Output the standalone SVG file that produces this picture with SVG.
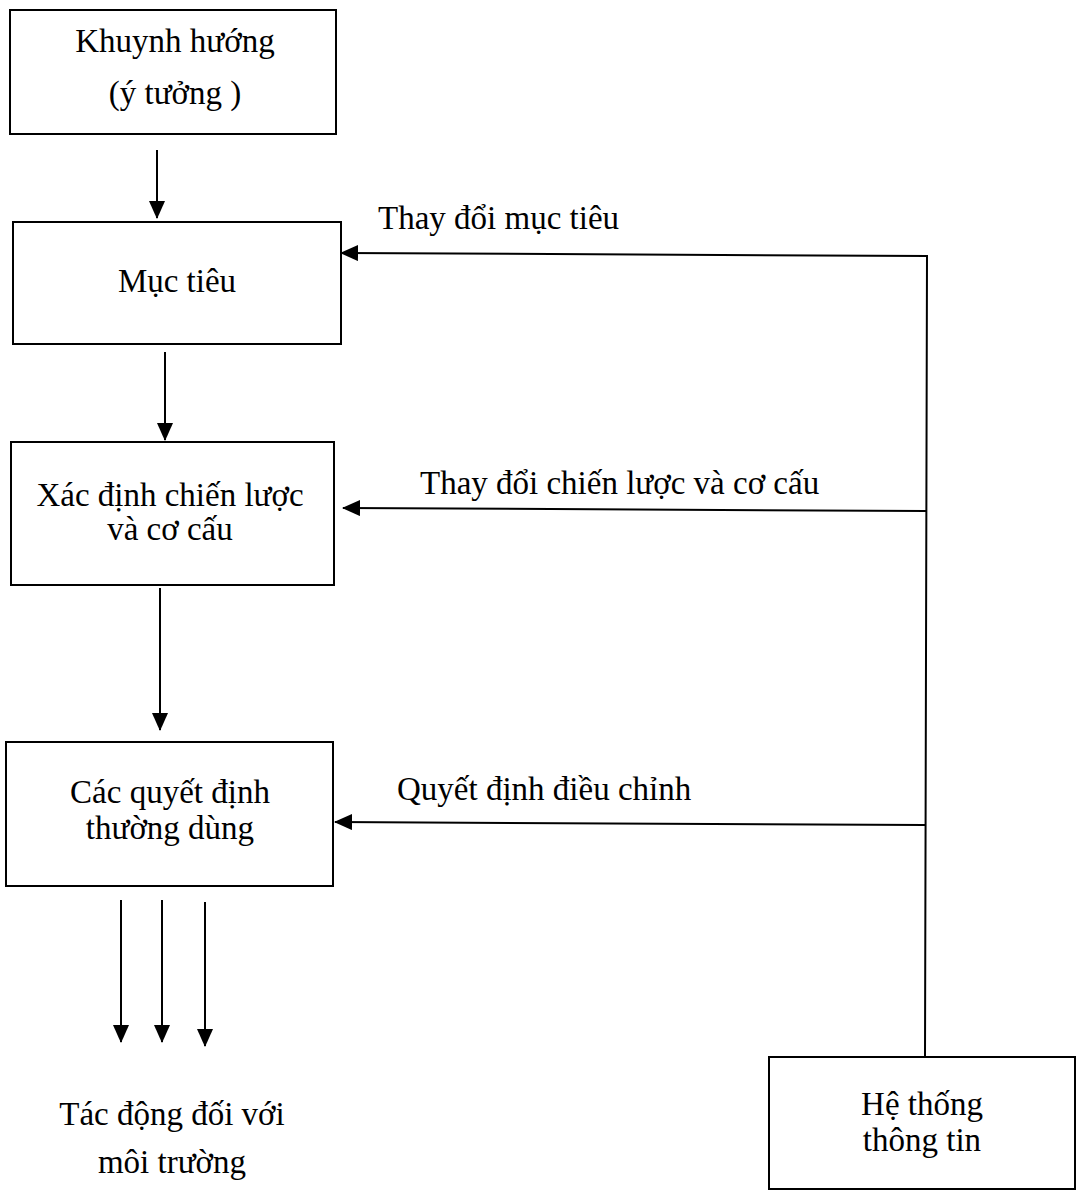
<svg xmlns="http://www.w3.org/2000/svg" width="1078" height="1191" viewBox="0 0 1078 1191">
<defs>
<marker id="ah" markerWidth="18" markerHeight="16" refX="17" refY="8" orient="auto" markerUnits="userSpaceOnUse">
<path d="M0,0 L18,8 L0,16 Z" fill="#000"/>
</marker>
</defs>
<style>
.box{fill:#fff;stroke:#000;stroke-width:2}
.t{font-family:"Liberation Serif","Times New Roman",serif;font-size:33px;fill:#000;text-anchor:middle}
.tl{font-family:"Liberation Serif","Times New Roman",serif;font-size:33px;fill:#000}
.c{fill:none;stroke:#000;stroke-width:2}
</style>
<rect width="1078" height="1191" fill="#fff"/>
<g id="n1"><rect class="box" x="10" y="10" width="326" height="124"/>
<text class="t" x="175" y="52">Khuynh hướng</text><text class="t" x="175" y="104">(ý tưởng )</text></g>
<g id="n2"><rect class="box" x="13" y="222" width="328" height="122"/>
<text class="t" x="177" y="292">Mục tiêu</text></g>
<g id="n3"><rect class="box" x="11" y="442" width="323" height="143"/>
<text class="t" x="170" y="506">Xác định chiến lược</text><text class="t" x="170" y="540">và cơ cấu</text></g>
<g id="n4"><rect class="box" x="6" y="742" width="327" height="144"/>
<text class="t" x="170" y="803">Các quyết định</text><text class="t" x="170" y="839">thường dùng</text></g>
<g id="n5"><rect class="box" x="769" y="1057" width="306" height="132"/>
<text class="t" x="922" y="1115">Hệ thống</text><text class="t" x="922" y="1151">thông tin</text></g>
<g id="n6"><text class="t" x="172" y="1125">Tác động đối với</text><text class="t" x="172" y="1173">môi trường</text></g>
<g id="connectors">
<line class="c" x1="157" y1="150" x2="157" y2="218" marker-end="url(#ah)"/>
<line class="c" x1="165" y1="352" x2="165" y2="440" marker-end="url(#ah)"/>
<line class="c" x1="160" y1="588" x2="160" y2="730" marker-end="url(#ah)"/>
<line class="c" x1="121" y1="900" x2="121" y2="1042" marker-end="url(#ah)"/>
<line class="c" x1="162" y1="900" x2="162" y2="1042" marker-end="url(#ah)"/>
<line class="c" x1="205" y1="902" x2="205" y2="1046" marker-end="url(#ah)"/>
<polyline class="c" points="925,1057 927,256 341,253" marker-end="url(#ah)"/>
<line class="c" x1="926" y1="511" x2="343" y2="508" marker-end="url(#ah)"/>
<line class="c" x1="925" y1="825" x2="335" y2="822" marker-end="url(#ah)"/>
</g>
<g id="labels">
<text class="tl" x="378" y="229">Thay đổi mục tiêu</text>
<text class="tl" x="420" y="494">Thay đổi chiến lược và cơ cấu</text>
<text class="tl" x="397" y="800">Quyết định điều chỉnh</text>
</g>
</svg>
